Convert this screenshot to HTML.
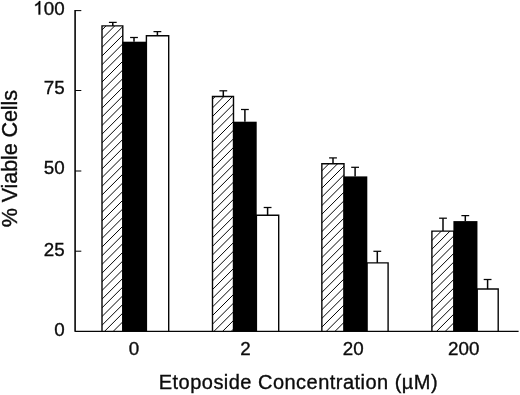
<!DOCTYPE html>
<html><head><meta charset="utf-8"><title>chart</title>
<style>
html,body{margin:0;padding:0;background:#fff;}
body{width:520px;height:395px;overflow:hidden;}
svg{display:block;will-change:transform;}
text{font-family:"Liberation Sans",sans-serif;fill:#0c0c0c;stroke:#0c0c0c;stroke-width:0.35px;}
</style></head><body>
<svg width="520" height="395" viewBox="0 0 520 395">
<rect width="520" height="395" fill="#fff"/>

<defs>
<clipPath id="c0"><rect x="102.00" y="25.90" width="20.80" height="305.35"/></clipPath>
<clipPath id="c1"><rect x="212.50" y="96.50" width="21.00" height="234.75"/></clipPath>
<clipPath id="c2"><rect x="321.85" y="163.80" width="22.15" height="167.45"/></clipPath>
<clipPath id="c3"><rect x="431.90" y="231.10" width="22.00" height="100.15"/></clipPath>
</defs>
<path d="M112.80 25.90V22.40" stroke="#060606" stroke-width="1.5" fill="none"/><path d="M108.90 22.40H116.70" stroke="#060606" stroke-width="1.25" fill="none"/>
<path d="M134.00 41.70V37.50" stroke="#060606" stroke-width="1.5" fill="none"/><path d="M130.10 37.50H137.90" stroke="#060606" stroke-width="1.25" fill="none"/>
<path d="M157.40 35.70V31.60" stroke="#060606" stroke-width="1.5" fill="none"/><path d="M153.50 31.60H161.30" stroke="#060606" stroke-width="1.25" fill="none"/>
<path clip-path="url(#c0)" d="M101.00 22.23L123.80 -0.57M101.00 30.91L123.80 8.12M101.00 39.60L123.80 16.80M101.00 48.29L123.80 25.49M101.00 56.97L123.80 34.17M101.00 65.66L123.80 42.86M101.00 74.34L123.80 51.54M101.00 83.03L123.80 60.23M101.00 91.71L123.80 68.91M101.00 100.40L123.80 77.60M101.00 109.08L123.80 86.28M101.00 117.77L123.80 94.97M101.00 126.45L123.80 103.65M101.00 135.14L123.80 112.34M101.00 143.82L123.80 121.02M101.00 152.51L123.80 129.71M101.00 161.19L123.80 138.39M101.00 169.88L123.80 147.08M101.00 178.56L123.80 155.76M101.00 187.25L123.80 164.45M101.00 195.93L123.80 173.13M101.00 204.62L123.80 181.82M101.00 213.30L123.80 190.50M101.00 221.99L123.80 199.19M101.00 230.67L123.80 207.87M101.00 239.36L123.80 216.56M101.00 248.04L123.80 225.24M101.00 256.73L123.80 233.93M101.00 265.41L123.80 242.61M101.00 274.10L123.80 251.30M101.00 282.78L123.80 259.98M101.00 291.47L123.80 268.67M101.00 300.15L123.80 277.35M101.00 308.84L123.80 286.04M101.00 317.52L123.80 294.72M101.00 326.21L123.80 303.41M101.00 334.89L123.80 312.09M101.00 343.58L123.80 320.78M101.00 352.26L123.80 329.46M101.00 360.95L123.80 338.15" stroke="#060606" stroke-width="1.0" fill="none"/>
<path d="M102.00 331.25V25.90H122.80V331.25" fill="none" stroke="#060606" stroke-width="1.4"/>
<path d="M146.40 331.25V35.70H168.70V331.25" fill="none" stroke="#060606" stroke-width="1.4"/>
<rect x="122.30" y="41.70" width="24.40" height="289.55" fill="#000"/>
<path d="M223.30 96.50V90.80" stroke="#060606" stroke-width="1.5" fill="none"/><path d="M219.40 90.80H227.20" stroke="#060606" stroke-width="1.25" fill="none"/>
<path d="M244.90 121.70V109.50" stroke="#060606" stroke-width="1.5" fill="none"/><path d="M241.00 109.50H248.80" stroke="#060606" stroke-width="1.25" fill="none"/>
<path d="M267.60 215.30V207.50" stroke="#060606" stroke-width="1.5" fill="none"/><path d="M263.70 207.50H271.50" stroke="#060606" stroke-width="1.25" fill="none"/>
<path clip-path="url(#c1)" d="M211.50 91.60L234.50 68.60M211.50 100.25L234.50 77.25M211.50 108.90L234.50 85.90M211.50 117.55L234.50 94.55M211.50 126.20L234.50 103.20M211.50 134.85L234.50 111.85M211.50 143.50L234.50 120.50M211.50 152.15L234.50 129.15M211.50 160.80L234.50 137.80M211.50 169.45L234.50 146.45M211.50 178.10L234.50 155.10M211.50 186.75L234.50 163.75M211.50 195.40L234.50 172.40M211.50 204.05L234.50 181.05M211.50 212.70L234.50 189.70M211.50 221.35L234.50 198.35M211.50 230.00L234.50 207.00M211.50 238.65L234.50 215.65M211.50 247.30L234.50 224.30M211.50 255.95L234.50 232.95M211.50 264.60L234.50 241.60M211.50 273.25L234.50 250.25M211.50 281.90L234.50 258.90M211.50 290.55L234.50 267.55M211.50 299.20L234.50 276.20M211.50 307.85L234.50 284.85M211.50 316.50L234.50 293.50M211.50 325.15L234.50 302.15M211.50 333.80L234.50 310.80M211.50 342.45L234.50 319.45M211.50 351.10L234.50 328.10M211.50 359.75L234.50 336.75" stroke="#060606" stroke-width="1.0" fill="none"/>
<path d="M212.50 331.25V96.50H233.50V331.25" fill="none" stroke="#060606" stroke-width="1.4"/>
<path d="M256.40 331.25V215.30H278.70V331.25" fill="none" stroke="#060606" stroke-width="1.4"/>
<rect x="233.00" y="121.70" width="23.70" height="209.55" fill="#000"/>
<path d="M333.00 163.80V157.90" stroke="#060606" stroke-width="1.5" fill="none"/><path d="M329.10 157.90H336.90" stroke="#060606" stroke-width="1.25" fill="none"/>
<path d="M355.10 176.40V167.30" stroke="#060606" stroke-width="1.5" fill="none"/><path d="M351.20 167.30H359.00" stroke="#060606" stroke-width="1.25" fill="none"/>
<path d="M377.30 262.90V251.30" stroke="#060606" stroke-width="1.5" fill="none"/><path d="M373.40 251.30H381.20" stroke="#060606" stroke-width="1.25" fill="none"/>
<path clip-path="url(#c2)" d="M320.85 163.12L345.00 138.97M320.85 171.80L345.00 147.65M320.85 180.49L345.00 156.34M320.85 189.17L345.00 165.02M320.85 197.86L345.00 173.71M320.85 206.54L345.00 182.39M320.85 215.23L345.00 191.08M320.85 223.91L345.00 199.76M320.85 232.60L345.00 208.45M320.85 241.28L345.00 217.13M320.85 249.97L345.00 225.82M320.85 258.65L345.00 234.50M320.85 267.34L345.00 243.19M320.85 276.02L345.00 251.87M320.85 284.71L345.00 260.56M320.85 293.39L345.00 269.24M320.85 302.08L345.00 277.93M320.85 310.76L345.00 286.61M320.85 319.45L345.00 295.30M320.85 328.13L345.00 303.98M320.85 336.82L345.00 312.67M320.85 345.50L345.00 321.35M320.85 354.19L345.00 330.04M320.85 362.87L345.00 338.72" stroke="#060606" stroke-width="1.0" fill="none"/>
<path d="M321.85 331.25V163.80H344.00V331.25" fill="none" stroke="#060606" stroke-width="1.4"/>
<path d="M367.00 331.25V262.90H388.10V331.25" fill="none" stroke="#060606" stroke-width="1.4"/>
<rect x="343.50" y="176.40" width="23.80" height="154.85" fill="#000"/>
<path d="M443.00 231.10V218.20" stroke="#060606" stroke-width="1.5" fill="none"/><path d="M439.10 218.20H446.90" stroke="#060606" stroke-width="1.25" fill="none"/>
<path d="M465.30 221.10V215.60" stroke="#060606" stroke-width="1.5" fill="none"/><path d="M461.40 215.60H469.20" stroke="#060606" stroke-width="1.25" fill="none"/>
<path d="M487.60 289.05V279.50" stroke="#060606" stroke-width="1.5" fill="none"/><path d="M483.70 279.50H491.50" stroke="#060606" stroke-width="1.25" fill="none"/>
<path clip-path="url(#c3)" d="M430.90 224.13L454.90 200.13M430.90 232.81L454.90 208.81M430.90 241.50L454.90 217.50M430.90 250.19L454.90 226.19M430.90 258.87L454.90 234.87M430.90 267.56L454.90 243.56M430.90 276.24L454.90 252.24M430.90 284.93L454.90 260.93M430.90 293.61L454.90 269.61M430.90 302.30L454.90 278.30M430.90 310.98L454.90 286.98M430.90 319.67L454.90 295.67M430.90 328.35L454.90 304.35M430.90 337.04L454.90 313.04M430.90 345.72L454.90 321.72M430.90 354.41L454.90 330.41" stroke="#060606" stroke-width="1.0" fill="none"/>
<path d="M431.90 331.25V231.10H453.90V331.25" fill="none" stroke="#060606" stroke-width="1.4"/>
<path d="M477.15 331.25V289.05H498.20V331.25" fill="none" stroke="#060606" stroke-width="1.4"/>
<rect x="453.40" y="221.10" width="24.05" height="110.15" fill="#000"/>
<path d="M75.1 10.10V331.80" stroke="#060606" stroke-width="1.6" fill="none"/>
<path d="M75.1 331.37H518.6" stroke="#060606" stroke-width="1.2" fill="none"/>
<path d="M75.1 251.20H81.3" stroke="#060606" stroke-width="1.05" fill="none"/>
<path d="M75.1 171.00H81.3" stroke="#060606" stroke-width="1.05" fill="none"/>
<path d="M75.1 90.50H81.3" stroke="#060606" stroke-width="1.05" fill="none"/>
<path d="M75.1 10.60H81.3" stroke="#060606" stroke-width="1.05" fill="none"/>
<path d="M763 0H583V1147Q518 1085 412.5 1023Q307 961 223 930V1104Q374 1175 487 1276Q600 1377 647 1472H763Z" transform="translate(33.23 14.60) scale(0.009180 -0.009180)" fill="#060606" stroke="#060606" stroke-width="38.1"/>
<text x="64.6" y="14.60" font-size="18.8" text-anchor="end">00</text>
<text x="64.7" y="94.20" font-size="18.8" text-anchor="end">75</text>
<text x="64.7" y="174.00" font-size="18.8" text-anchor="end">50</text>
<text x="64.7" y="255.95" font-size="18.8" text-anchor="end">25</text>
<text x="64.7" y="336.05" font-size="18.8" text-anchor="end">0</text>
<text x="134.05" y="354.7" font-size="18.8" text-anchor="middle">0</text>
<text x="245.40" y="354.7" font-size="18.8" text-anchor="middle">2</text>
<text x="353.18" y="354.7" font-size="18.8" text-anchor="middle">20</text>
<text x="463.75" y="354.7" font-size="18.8" text-anchor="middle">200</text>
<text x="298.4" y="389.35" font-size="20" letter-spacing="0.47" text-anchor="middle">Etoposide Concentration (µM)</text>
<text transform="translate(17.3 158.7) rotate(-90)" font-size="21.6" letter-spacing="-0.12" text-anchor="middle">% Viable Cells</text>
</svg></body></html>
